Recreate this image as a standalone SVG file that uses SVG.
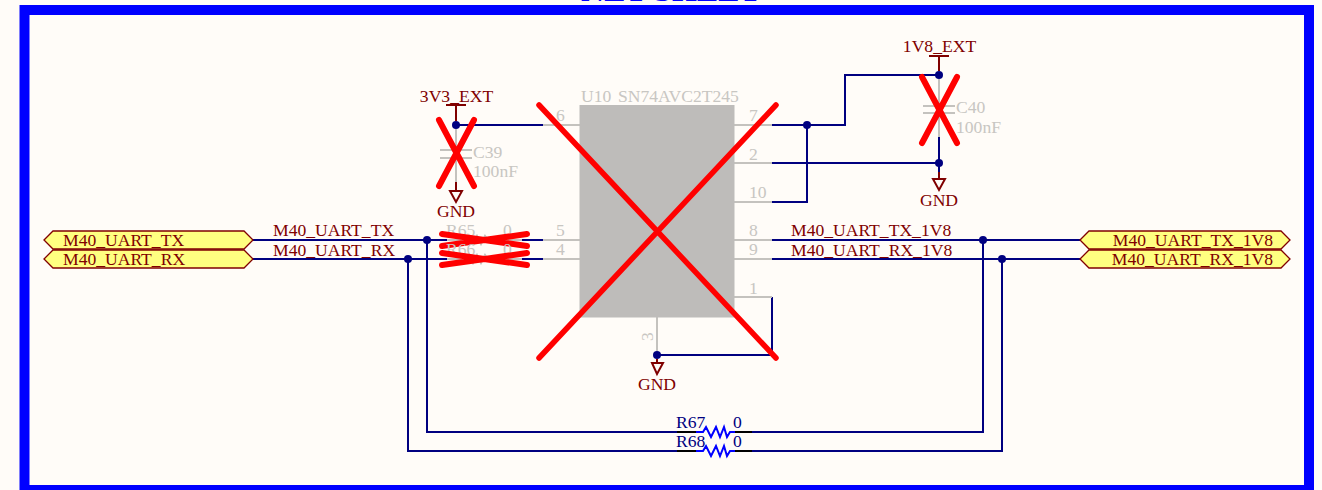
<svg xmlns="http://www.w3.org/2000/svg" width="1322" height="490" viewBox="0 0 1322 490">
<style>
text{font-family:"Liberation Serif","Times New Roman",serif;font-size:17.6px}
.m{fill:#800000}.g{fill:#c8c6c2}.b{fill:#000080}
.w{fill:none;stroke:#000080;stroke-width:2}
.p{fill:none;stroke:#c4c2be;stroke-width:2}
.d{fill:none;stroke:#800000;stroke-width:2}
.x{fill:none;stroke:#ff0000;stroke-width:6;stroke-linecap:round}
.j{fill:#000080}
.port{fill:#ffff80;stroke:#800000;stroke-width:1.3}
.r{fill:none;stroke:#0000ff;stroke-width:2}
</style>
<rect width="1322" height="490" fill="#fffcf8"/>
<text x="671" y="1" text-anchor="middle" style="font-size:32px;font-weight:bold;fill:#0000ff">NET SHEET</text>
<rect x="24.5" y="10" width="1284.5" height="480" fill="none" stroke="#0000ff" stroke-width="10"/>

<g id="connectors">
<path class="w" d="M253 240H447M522 240H543M253 259H447M522 259H543M456 125H543M772 125H845V75H939M807 125V202H772M772 163H939M939 135V172M772 240H1080M772 259H1080M427 240V432H677M752 432H983V240M408 259V451H677M752 451H1002V259"/>
<path class="w" d="M772 297V355H657"/>
<circle class="j" cx="456" cy="125" r="4"/>
<circle class="j" cx="807" cy="125" r="4"/>
<circle class="j" cx="939" cy="75" r="4"/>
<circle class="j" cx="939" cy="163" r="4"/>
<circle class="j" cx="427" cy="240" r="4"/>
<circle class="j" cx="408" cy="259" r="4"/>
<circle class="j" cx="983" cy="240" r="4"/>
<circle class="j" cx="1002" cy="259" r="4"/>
<circle class="j" cx="657" cy="355" r="4"/>
<text class="m" x="273" y="236">M40_UART_TX</text>
<text class="m" x="273" y="256">M40_UART_RX</text>
<text class="m" x="791" y="236">M40_UART_TX_1V8</text>
<text class="m" x="791" y="256">M40_UART_RX_1V8</text>
</g>

<g id="U10">
<path class="p" d="M543 125H580M734 125H772M734 163H772M734 202H772M543 240H580M543 259H580M734 240H772M734 259H772M734 297H772M657 317V351"/>
<rect x="579.5" y="105" width="155" height="212.5" fill="#bebcba"/>
<text class="g" x="581" y="102">U10</text>
<text class="g" x="618" y="102">SN74AVC2T245</text>
<text class="g" x="556" y="121">6</text>
<text class="g" x="556" y="236">5</text>
<text class="g" x="556" y="255">4</text>
<text class="g" x="749" y="121">7</text>
<text class="g" x="749" y="160">2</text>
<text class="g" x="749" y="198">10</text>
<text class="g" x="749" y="236">8</text>
<text class="g" x="749" y="255">9</text>
<text class="g" x="749" y="294">1</text>
<text class="g" transform="translate(653 341) rotate(-90)">3</text>
<path class="x" style="stroke-width:5.5" d="M539 105L776 358M776 105L539 358"/>
</g>

<g id="C39">
<path class="p" d="M456 129V150M456 158V182M440 150H472M440 158H472"/>
<text class="g" x="473" y="158">C39</text>
<text class="g" x="473" y="177">100nF</text>
<path class="x" d="M439 120L474 186M474 120L439 186"/>
</g>
<g id="C40">
<path class="p" d="M939 79V106M939 113V137M923 106H955M923 113H955"/>
<text class="g" x="956" y="113">C40</text>
<text class="g" x="956" y="133">100nF</text>
<path class="x" d="M922 77L957 143M957 77L922 143"/>
</g>

<g id="R65">
<path class="p" d="M447 240H466L469 236L473 244L477 236L481 244L485 236L488 240H522"/>
<text class="g" x="446" y="236">R65</text>
<text class="g" x="503" y="236">0</text>
<path class="x" d="M442 234L527 246M527 234L442 246"/>
</g>
<g id="R66">
<path class="p" d="M447 259H466L469 255L473 263L477 255L481 263L485 255L488 259H522"/>
<text class="g" x="446" y="255">R66</text>
<text class="g" x="503" y="255">0</text>
<path class="x" d="M442 253L527 265M527 253L442 265"/>
</g>

<g id="R67">
<path class="d" style="stroke:#000" d="M677 432H696M735 432H752"/>
<path class="r" d="M696 432H703L706 427L711 437L716 427L720 437L724 427L727 437L730 432H735"/>
<text x="676" y="428" style="fill:#000080">R67</text>
<text x="733" y="428" style="fill:#000080">0</text>
</g>
<g id="R68">
<path class="d" style="stroke:#000" d="M677 451H696M735 451H752"/>
<path class="r" d="M696 451H703L706 446L711 456L716 446L720 456L724 446L727 456L730 451H735"/>
<text x="676" y="447" style="fill:#000080">R68</text>
<text x="733" y="447" style="fill:#000080">0</text>
</g>

<g id="pwr-3V3">
<path class="d" d="M446 105H466M456 105V121"/>
<text class="m" x="456.500" y="102" text-anchor="middle">3V3_EXT</text>
</g>
<g id="pwr-1V8">
<path class="d" d="M929 56H949M939 56V71"/>
<text class="m" x="939.500" y="52" text-anchor="middle">1V8_EXT</text>
</g>
<g id="gnd-c39">
<path class="d" d="M456 182V191M450 191H462L456 202Z"/>
<text class="m" x="456" y="217" text-anchor="middle">GND</text>
</g>
<g id="gnd-c40">
<path class="d" d="M939 172V179M933 179H945L939 190Z"/>
<text class="m" x="939" y="206" text-anchor="middle">GND</text>
</g>
<g id="gnd-u10">
<path class="d" d="M657 359V363M652 363H663L657 374Z"/>
<text class="m" x="657" y="390" text-anchor="middle">GND</text>
</g>

<g id="port-M40_UART_TX">
<path class="port" d="M44 240L53 231H244L253 240L244 249H53Z"/>
<text class="m" x="63" y="246">M40_UART_TX</text>
</g>
<g id="port-M40_UART_RX">
<path class="port" d="M44 259L53 250H244L253 259L244 268H53Z"/>
<text class="m" x="63" y="265">M40_UART_RX</text>
</g>
<g id="port-M40_UART_TX_1V8">
<path class="port" d="M1080 240L1089 231H1281L1290 240L1281 249H1089Z"/>
<text class="m" x="1273" y="246" text-anchor="end">M40_UART_TX_1V8</text>
</g>
<g id="port-M40_UART_RX_1V8">
<path class="port" d="M1080 259L1089 250H1281L1290 259L1281 268H1089Z"/>
<text class="m" x="1273" y="265" text-anchor="end">M40_UART_RX_1V8</text>
</g>
</svg>
